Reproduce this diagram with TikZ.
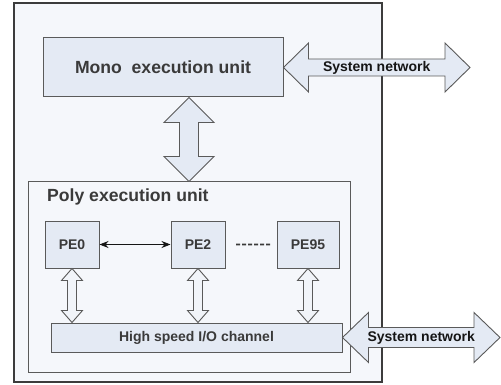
\documentclass[tikz,border=0pt]{standalone}
\usepackage{fontspec}
\setmainfont{Liberation Sans}
\usetikzlibrary{calc,arrows.meta}
\definecolor{outerfill}{HTML}{F5F7FB}
\definecolor{boxfill}{HTML}{E4EAF4}
\definecolor{boxline}{HTML}{5A5A5A}
\definecolor{outerline}{HTML}{3C3C3C}
\definecolor{txt}{HTML}{3A3A3A}
\definecolor{darktxt}{HTML}{151515}
\definecolor{smallfill}{HTML}{F1F4F9}
% vertical double block arrow: #1 top, #2 bottom, #3 head half width, #4 head length, #5 shaft half width, #6 style
\newcommand{\vdblarrow}[6]{%
  \draw[#6] let \p1=(#1), \p2=(#2) in
   (\x1,\y1) -- (\x1+#3,\y1-#4) -- (\x1+#5,\y1-#4) -- (\x1+#5,\y2+#4) -- (\x1+#3,\y2+#4)
   -- (\x1,\y2) -- (\x1-#3,\y2+#4) -- (\x1-#5,\y2+#4) -- (\x1-#5,\y1-#4) -- (\x1-#3,\y1-#4) -- cycle;}
% horizontal double block arrow: #1 left, #2 right
\newcommand{\hdblarrow}[6]{%
  \draw[#6] let \p1=(#1), \p2=(#2) in
   (\x1,\y1) -- (\x1+#4,\y1+#3) -- (\x1+#4,\y1+#5) -- (\x2-#4,\y1+#5) -- (\x2-#4,\y1+#3)
   -- (\x2,\y1) -- (\x2-#4,\y1-#3) -- (\x2-#4,\y1-#5) -- (\x1+#4,\y1-#5) -- (\x1+#4,\y1-#3) -- cycle;}
\tikzset{
  outerbox/.style={draw=outerline, fill=outerfill, line width=1.2pt, inner sep=0pt},
  polybox/.style={draw=boxline, fill=outerfill, line width=1pt, inner sep=0pt},
  unitbox/.style={draw=boxline, fill=boxfill, line width=1pt, inner sep=0pt, text=txt,
    font=\bfseries\fontsize{17.6}{20}\selectfont},
  pebox/.style={draw=boxline, fill=boxfill, line width=1pt, inner sep=0pt, text=txt,
    font=\bfseries\fontsize{14}{17}\selectfont},
  bigarrow/.style={draw=boxline, fill=boxfill, line width=0.9pt, line join=miter},
  smallarrow/.style={draw=boxline, fill=smallfill, line width=0.9pt, line join=miter},
  netlabel/.style={text=darktxt, font=\bfseries\fontsize{14}{17}\selectfont, inner sep=0pt},
  titlelabel/.style={text=txt, font=\bfseries\fontsize{17.6}{20}\selectfont, inner sep=0pt, anchor=west},
}
\begin{document}
\begin{tikzpicture}[x=1pt,y=-1pt]
\useasboundingbox (0,0) rectangle (501,385);
\node[outerbox, minimum width=368pt, minimum height=379pt] (outer) at (198,192.5) {};
\node[polybox, minimum width=322pt, minimum height=190pt] (poly) at (189,277) {};
\node[titlelabel] (polytitle) at (47,197) {Poly execution unit};
\node[unitbox, minimum width=240pt, minimum height=59pt] (mono) at (163,67.5) {Mono~~execution unit};
\node[pebox, minimum width=54pt, minimum height=47pt] (pe0) at (72,244.5) {PE0};
\node[pebox, minimum width=54pt, minimum height=47pt] (pe2) at (198,244.5) {PE2};
\node[pebox, minimum width=62pt, minimum height=47pt] (pe95) at (308,244.5) {PE95};
\node[pebox, minimum width=291pt, minimum height=29pt] (hs) at (196.5,337.5) {High speed I/O channel};
\coordinate (sn1) at (470,67.5);
\coordinate (sn2) at (500,337.5);
% mono <-> poly
\vdblarrow{poly.north |- mono.south}{poly.north}{25pt}{25pt}{9.5pt}{bigarrow}
% PE <-> channel
\vdblarrow{pe0.south}{pe0.south |- hs.north}{10.5pt}{12pt}{4.5pt}{smallarrow}
\vdblarrow{pe2.south}{pe2.south |- hs.north}{10.5pt}{12pt}{4.5pt}{smallarrow}
\vdblarrow{pe95.south}{pe95.south |- hs.north}{10.5pt}{12pt}{4.5pt}{smallarrow}
% PE0 <-> PE2
\draw[{Stealth[length=9pt,width=7pt]}-{Stealth[length=9pt,width=7pt]}, line width=0.8pt, draw=darktxt]
  (pe0) -- (pe2);
\draw[line width=1.8pt, draw=txt, dash pattern=on 4pt off 2pt]
  ($(pe2.east)!0.21!(pe95.west)$) -- ($(pe2.east)!0.9!(pe95.west)$);
% system networks
\hdblarrow{mono.east}{sn1}{24.5pt}{25pt}{8.5pt}{bigarrow}
\node[netlabel] (net1) at ($(mono.east)!0.5!(sn1)$) {System network};
\hdblarrow{hs.east}{sn2}{25pt}{26pt}{10pt}{bigarrow}
\node[netlabel] (net2) at ($(hs.east)!0.5!(sn2)$) {System network};
\end{tikzpicture}
\end{document}
